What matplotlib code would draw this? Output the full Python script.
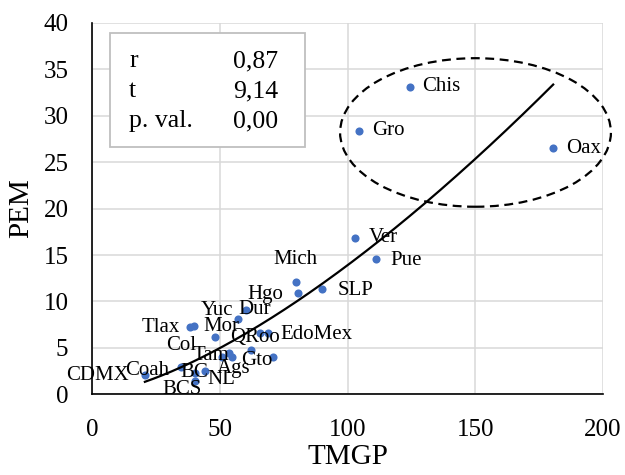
import numpy as np
import matplotlib
matplotlib.use('Agg')
import matplotlib.pyplot as plt
from matplotlib.patches import Ellipse, Rectangle

plt.rcParams['font.family'] = ['Liberation Serif', 'DejaVu Serif']

# ---- data ----
states = ['CDMX', 'Coah', 'BC', 'NL', 'BCS', 'Col', 'Tam', 'Ags', '', 'Tlax', '',
          'Mor', 'Yuc', 'Dur', 'QRoo', 'EdoMex', 'Gto', 'Mich', 'Hgo', 'SLP',
          'Ver', 'Pue', 'Gro', 'Chis', 'Oax']
tmgp = [20.7, 34.7, 40.2, 44.1, 40.5, 50.7, 53.8, 54.6, 62.4, 38.2, 39.9,
        48.3, 57.0, 60.3, 65.9, 69.0, 70.7, 79.8, 80.6, 90.2,
        102.9, 111.2, 104.5, 124.3, 180.5]
pem = [2.08, 2.99, 2.29, 2.51, 1.43, 4.02, 4.45, 4.07, 4.77, 7.22, 7.36,
       6.20, 8.11, 9.08, 6.60, 6.60, 4.02, 12.13, 10.88, 11.34,
       16.87, 14.57, 28.39, 33.13, 26.49]
stat_names = ['r', 't', 'p. val.']
stat_values = ['0,87', '9,14', '0,00']
x_ticks = [0, 50, 100, 150, 200]
y_ticks = [0, 5, 10, 15, 20, 25, 30, 35, 40]

# label placement (pixel offsets from each point)
label_offsets = [(-47, -1), (-33, -3.5), (0, 1), (17, -9), (-13, -8), (-40, 11),
                 (-18, -3), (2, -11.5), (0, 0), (-29, 0), (0, 0),
                 (6, 10), (-21, 8), (9, 0), (-5, -4), (48, -1), (-16, -4),
                 (0, 22), (-33, -1), (33, -1),
                 (28, 0), (30, -1), (29, 0), (32, 0), (30, 0)]

W, H = 625, 475
fig = plt.figure(figsize=(W / 100, H / 100), dpi=100)
ax = fig.add_axes([92 / W, 1 - 394.3 / H, 511 / W, 371.4 / H])

ax.set_xlim(0, 200)
ax.set_ylim(0, 40)
ax.set_xticks(x_ticks)
ax.set_yticks(y_ticks)
ax.grid(True, color='#d9d9d9', linewidth=1.1)
ax.set_axisbelow(True)
for s in ['top', 'right']:
    ax.spines[s].set_visible(False)
for s in ['left', 'bottom']:
    ax.spines[s].set_color('black')
    ax.spines[s].set_linewidth(1.2)
ax.tick_params(axis='both', length=0, labelsize=18)
ax.tick_params(axis='y', pad=17)
ax.tick_params(axis='x', pad=18)

x = np.array(tmgp)
y = np.array(pem)
ax.scatter(x, y, s=34, color='#4472C4', zorder=3, linewidths=0)

# power trend line (least squares on log-log, as a spreadsheet power trendline)
b, a = np.polyfit(np.log(x), np.log(y), 1)
xs = np.linspace(x.min(), x.max(), 200)
ax.plot(xs, np.exp(a) * xs ** b, color='black', linewidth=1.6, zorder=4)

for lab, xi, yi, off in zip(states, tmgp, pem, label_offsets):
    if lab:
        ax.annotate(lab, (xi, yi), xytext=off, textcoords='offset pixels',
                    ha='center', va='center', fontsize=15, zorder=5)

# dashed ellipse around the outliers
ell = Ellipse((150.1, 28.2), 106.0, 16.0, fill=False, edgecolor='black',
              linestyle=(0, (4, 2.5)), linewidth=1.6, clip_on=False, zorder=4)
ax.add_patch(ell)

# statistics box
def fx(px):
    return px / W

def fy(py):
    return 1 - py / H

box = Rectangle((fx(110), fy(147)), fx(305) - fx(110), fy(33) - fy(147),
                transform=fig.transFigure, facecolor='white', edgecolor='#bfbfbf',
                linewidth=1.3, zorder=6)
fig.patches.append(box)
rows_y = [61, 91, 121]
for name, val, ry in zip(stat_names, stat_values, rows_y):
    fig.text(fx(129), fy(ry), name, ha='left', va='center', fontsize=18.5, zorder=7)
    fig.text(fx(278), fy(ry), val, ha='right', va='center', fontsize=18.5, zorder=7)

fig.text(fx(348), fy(457), 'TMGP', ha='center', va='center', fontsize=21)
fig.text(fx(21), fy(208), 'PEM', ha='center', va='center', fontsize=21, rotation=90)

fig.savefig('out.png', dpi=100)
